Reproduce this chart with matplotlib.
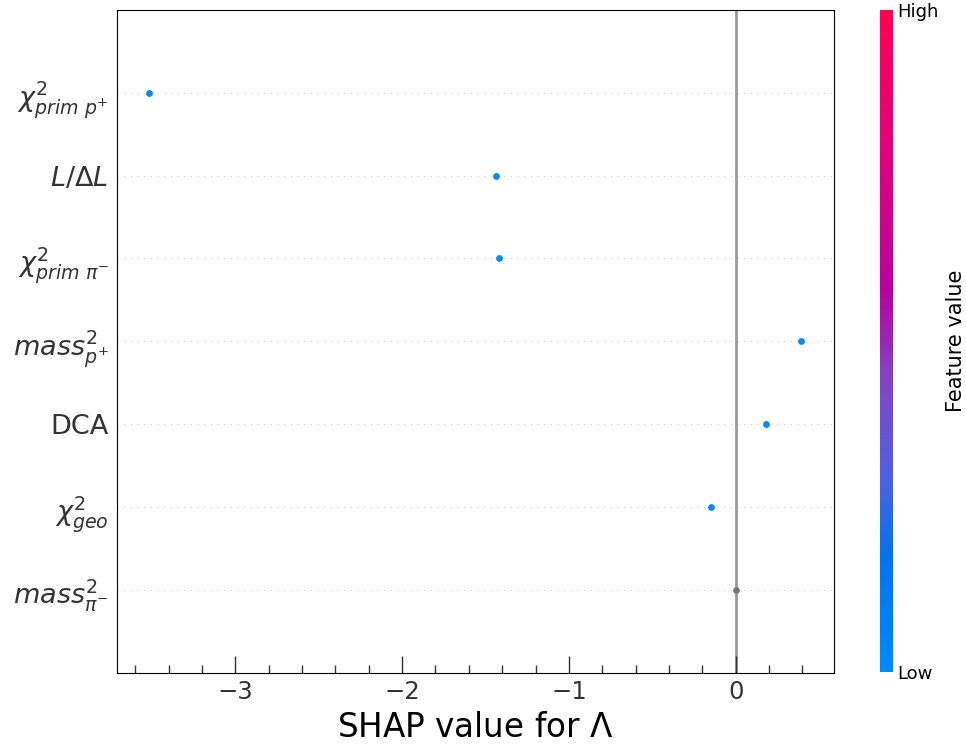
import numpy as np
import matplotlib
matplotlib.use('Agg')
import matplotlib.pyplot as plt
from matplotlib.colors import LinearSegmentedColormap
from matplotlib.ticker import MultipleLocator

# features from top to bottom, and their shap values
features = [r'$\chi^2_{prim\ p^{+}}$', r'$L/\Delta L$', r'$\chi^2_{prim\ \pi^{-}}$',
            r'$mass^2_{p^{+}}$', 'DCA', r'$\chi^2_{geo}$', r'$mass^2_{\pi^{-}}$']
shap_values = [-3.52, -1.44, -1.42, 0.39, 0.18, -0.15, 0.0]
# feature value (0 = low, 1 = high), None = no value (grey)
feature_values = [0.0, 0.0, 0.0, 0.0, 0.0, 0.0, None]

red_blue = LinearSegmentedColormap.from_list('red_blue', [
    (0.0, '#008bfb'), (0.17, '#0074ec'), (0.3, '#525fe0'), (0.45, '#8642c2'),
    (0.58, '#b800a0'), (0.8, '#e3007a'), (1.0, '#ff0052')])

fig = plt.figure(figsize=(9.66, 7.47), dpi=100)
ax = fig.add_axes([0.121, 0.099, 0.742, 0.888])

n = len(features)
ypos = np.arange(n)[::-1]
for y, v, c in zip(ypos, shap_values, feature_values):
    ax.axhline(y=y, color='#cccccc', lw=0.8, dashes=(1, 5), zorder=-1)
    if c is None:
        ax.scatter([v], [y], s=24, color='#777777', zorder=3, linewidths=0)
    else:
        ax.scatter([v], [y], s=24, color=red_blue(c), zorder=3, linewidths=0)

ax.axvline(x=0, color='#999999', lw=2, zorder=-1)

ax.set_xlim(-3.71, 0.587)
ax.set_ylim(-1, n)
ax.set_yticks(ypos)
ax.set_yticklabels(features, fontsize=19.5, color='#333333')
ax.tick_params(axis='y', length=0, pad=6)
ax.xaxis.set_major_locator(MultipleLocator(1))
ax.xaxis.set_minor_locator(MultipleLocator(0.2))
ax.tick_params(axis='x', which='major', direction='in', length=12.5, width=1,
               labelsize=17.5, labelcolor='#333333', color='#333333', pad=5)
ax.tick_params(axis='x', which='minor', direction='in', length=6, width=1, color='#333333')
ax.tick_params(axis='x', which='both', top=False)
ax.set_xlabel(r'SHAP value for $\Lambda$', fontsize=23.5, labelpad=5)

# colorbar
cax = fig.add_axes([0.911, 0.1, 0.0125, 0.887])
grad = np.linspace(0, 1, 256).reshape(-1, 1)
cax.imshow(grad, aspect='auto', cmap=red_blue, origin='lower', extent=[0, 1, 0, 1])
cax.set_xticks([])
cax.set_yticks([0, 1])
cax.set_yticklabels(['Low', 'High'], fontsize=13)
cax.yaxis.tick_right()
cax.tick_params(axis='y', length=0, pad=4)
for s in cax.spines.values():
    s.set_visible(False)
cax.set_ylabel('Feature value', fontsize=15, labelpad=5)
cax.yaxis.set_label_position('right')

fig.savefig('out.png', dpi=100)
